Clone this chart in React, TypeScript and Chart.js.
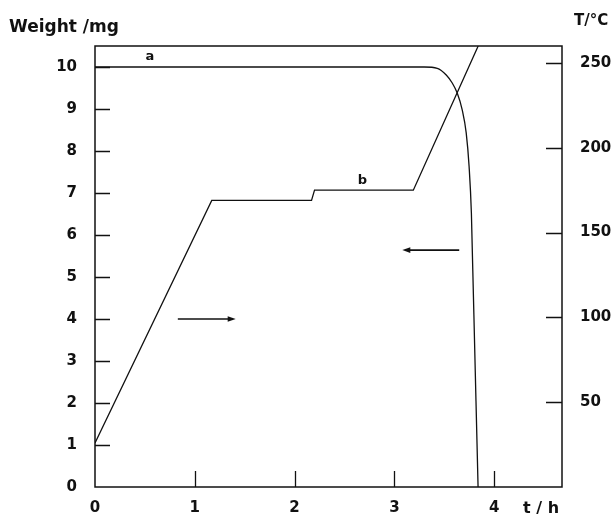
import React, { useEffect, useRef } from "react";
import { Chart, registerables } from "chart.js";

Chart.register(...registerables);

// Curve a: weight (mg) vs time (h)
const weightTime = [0, 3.3, 3.43, 3.52, 3.58, 3.63, 3.68, 3.72, 3.749, 3.772, 3.776, 3.797, 3.818, 3.839];
const weightValues = [10, 10, 9.97, 9.81, 9.62, 9.38, 8.98, 8.43, 7.63, 6.52, 6.13, 4.1, 2.05, 0];

// Curve b: temperature (°C) vs time (h)
const tempTime = [0, 1.17, 2.17, 2.2, 3.19, 3.84];
const tempValues = [26, 169, 169, 175, 175, 260];

// Axis ranges / ticks
const timeMax = 4.68;
const weightMax = 10.5;
const tempMax = 260;
const timeStep = 1;
const weightStep = 1;
const tempStep = 50;

// Arrows (time of tail, time of head, weight level)
const arrowTail = [0.83, 3.65];
const arrowHead = [1.41, 3.08];
const arrowLevel = [4.0, 5.64];

// Curve labels
const curveLabels = ["a", "b"];
const curveLabelTime = [0.55, 2.68];
const curveLabelWeight = [10.25, 7.3];

// Axis titles
const leftTitle = "Weight /mg";
const rightTitle = "T/°C";
const bottomTitle = "t / h";

const INK = "#111";
const FONT = "'DejaVu Sans', sans-serif";

const overlay = {
  id: "overlay",
  afterDatasetsDraw(chart: any) {
    const { ctx, chartArea: ca, scales } = chart;
    const x = scales.x;
    const y = scales.y;
    const y2 = scales.y2;
    ctx.save();
    ctx.strokeStyle = INK;
    ctx.fillStyle = INK;
    ctx.lineWidth = 1.5;
    // frame
    ctx.strokeRect(ca.left, ca.top, ca.right - ca.left, ca.bottom - ca.top);
    // inward ticks
    ctx.lineWidth = 1.3;
    ctx.beginPath();
    y.ticks.forEach((t: any) => {
      if (t.value <= 0) return;
      const py = Math.round(y.getPixelForValue(t.value)) + 0.5;
      ctx.moveTo(ca.left, py);
      ctx.lineTo(ca.left + 15, py);
    });
    y2.ticks.forEach((t: any) => {
      if (t.value <= 0) return;
      const py = Math.round(y2.getPixelForValue(t.value)) + 0.5;
      ctx.moveTo(ca.right, py);
      ctx.lineTo(ca.right - 16, py);
    });
    x.ticks.forEach((t: any) => {
      if (t.value <= 0) return;
      const px = Math.round(x.getPixelForValue(t.value)) + 0.5;
      ctx.moveTo(px, ca.bottom);
      ctx.lineTo(px, ca.bottom - 16);
    });
    ctx.stroke();

    // arrows
    ctx.lineWidth = 1.6;
    for (let i = 0; i < arrowTail.length; i++) {
      const x0 = x.getPixelForValue(arrowTail[i]);
      const x1 = x.getPixelForValue(arrowHead[i]);
      const py = y.getPixelForValue(arrowLevel[i]);
      const dir = Math.sign(x1 - x0);
      ctx.beginPath();
      ctx.moveTo(x0, py);
      ctx.lineTo(x1 - dir * 5, py);
      ctx.stroke();
      ctx.beginPath();
      ctx.moveTo(x1, py);
      ctx.lineTo(x1 - dir * 8, py - 2.8);
      ctx.lineTo(x1 - dir * 8, py + 2.8);
      ctx.closePath();
      ctx.fill();
    }

    // curve labels
    ctx.font = `bold 13px ${FONT}`;
    ctx.textAlign = "center";
    ctx.textBaseline = "middle";
    for (let i = 0; i < curveLabels.length; i++) {
      ctx.fillText(
        curveLabels[i],
        x.getPixelForValue(curveLabelTime[i]),
        y.getPixelForValue(curveLabelWeight[i])
      );
    }

    // axis titles
    ctx.textBaseline = "alphabetic";
    ctx.textAlign = "left";
    ctx.font = `bold 17px ${FONT}`;
    ctx.fillText(leftTitle, 9, 32);
    ctx.font = `bold 15px ${FONT}`;
    ctx.fillText(rightTitle, 574, 25);
    ctx.font = `bold 16px ${FONT}`;
    ctx.fillText(bottomTitle, 523, 513);
    ctx.restore();
  },
};

export default function App() {
  const ref = useRef<HTMLCanvasElement>(null);

  useEffect(() => {
    if (!ref.current) return;
    const tickFont = { family: FONT, size: 15, weight: "bold" as const };
    const chart = new Chart(ref.current, {
      type: "line",
      data: {
        datasets: [
          {
            label: "a",
            data: weightTime.map((t, i) => ({ x: t, y: weightValues[i] })),
            yAxisID: "y",
            borderColor: INK,
            borderWidth: 1.3,
            pointRadius: 0,
            cubicInterpolationMode: "monotone",
            fill: false,
          },
          {
            label: "b",
            data: tempTime.map((t, i) => ({ x: t, y: tempValues[i] })),
            yAxisID: "y2",
            borderColor: INK,
            borderWidth: 1.3,
            pointRadius: 0,
            tension: 0,
            fill: false,
          },
        ],
      },
      options: {
        responsive: false,
        animation: false,
        events: [],
        layout: { padding: { top: 46, left: 0, right: 0, bottom: 0 } },
        plugins: {
          legend: { display: false },
          tooltip: { enabled: false },
          title: { display: false },
        },
        scales: {
          x: {
            type: "linear",
            min: 0,
            max: timeMax,
            grid: { display: false, drawTicks: false },
            border: { display: false },
            ticks: {
              stepSize: timeStep,
              includeBounds: false,
              padding: 12,
              color: INK,
              font: tickFont,
              maxRotation: 0,
              callback: (v: any) => String(v),
            },
            afterFit: (s: any) => {
              s.height = 31;
            },
          },
          y: {
            type: "linear",
            position: "left",
            min: 0,
            max: weightMax,
            grid: { display: false, drawTicks: false },
            border: { display: false },
            ticks: {
              stepSize: weightStep,
              includeBounds: false,
              padding: 18,
              color: INK,
              font: tickFont,
              callback: (v: any) => String(v),
            },
            afterFit: (s: any) => {
              s.width = 95;
            },
          },
          y2: {
            type: "linear",
            position: "right",
            min: 0,
            max: tempMax,
            grid: { display: false, drawTicks: false },
            border: { display: false },
            ticks: {
              stepSize: tempStep,
              includeBounds: false,
              padding: 18,
              color: INK,
              font: tickFont,
              callback: (v: any) => (v === 0 ? null : String(v)),
            },
            afterFit: (s: any) => {
              s.width = 51;
            },
          },
        },
      },
      plugins: [overlay],
    });
    return () => chart.destroy();
  }, []);

  return (
    <div
      style={{
        position: "fixed",
        left: 0,
        top: 0,
        width: 613,
        height: 518,
        background: "#fff",
      }}
    >
      <canvas ref={ref} width={613} height={518} style={{ display: "block" }} />
    </div>
  );
}
